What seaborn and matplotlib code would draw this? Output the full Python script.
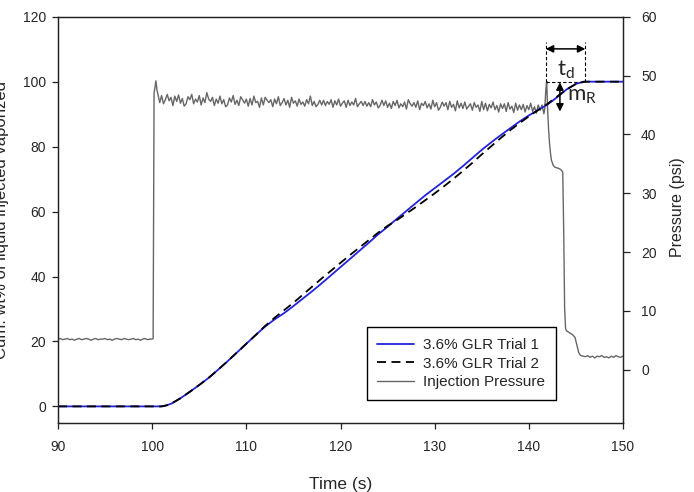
import numpy as np
import pandas as pd
import matplotlib
matplotlib.use("Agg")
import matplotlib.pyplot as plt
import seaborn as sns

sns.set_theme(style="ticks")
plt.rcParams['font.family'] = ['Liberation Sans', 'DejaVu Sans']

# cumulative wt% vaporized, trial 1 and trial 2
trial1_t = [90, 100, 101, 101.5, 102, 103, 104, 105, 106, 107, 108, 109, 110, 111, 112,
            113, 114, 115, 116, 117, 118, 119, 120, 121, 122, 123, 124, 125, 126, 127,
            128, 129, 130, 131, 132, 133, 134, 135, 136, 137, 138, 139, 140, 141, 142,
            143, 144, 145, 145.8, 150]
trial1_v = [0, 0, 0, 0.3, 0.8, 2.5, 4.5, 6.6, 8.8, 11.3, 13.9, 16.6, 19.3, 22.0, 24.6,
            26.8, 28.7, 30.9, 33.2, 35.5, 37.9, 40.4, 42.9, 45.4, 47.9, 50.4, 53.0, 55.3, 57.8, 60.2,
            62.6, 65.0, 67.2, 69.4, 71.6, 74.0, 76.5, 79.0, 81.3, 83.5, 85.6, 87.7, 89.6, 91.3, 93.0,
            95.2, 97.6, 99.3, 100, 100]
trial2_t = [90, 100, 101, 101.5, 102, 103, 104, 105, 106, 107, 108, 109, 110, 111, 112,
            113, 114, 115, 116, 117, 118, 119, 120, 121, 122, 123, 124, 125, 126, 127,
            128, 129, 130, 131, 132, 133, 134, 135, 136, 137, 138, 139, 140, 141, 142,
            143, 144, 145, 145.9, 150]
trial2_v = [0, 0, 0, 0.3, 0.8, 2.5, 4.5, 6.6, 8.8, 11.3, 13.9, 16.6, 19.3, 22.0, 24.8,
            27.3, 29.6, 31.9, 34.4, 36.9, 39.4, 41.8, 44.2, 46.6, 48.9, 51.2, 53.5, 55.6, 57.4, 59.4,
            61.4, 63.5, 65.6, 67.8, 70.1, 72.5, 75.0, 77.6, 80.1, 82.6, 85.0, 87.2, 89.3, 91.3, 93.2,
            95.4, 97.6, 99.3, 100, 100]

# injection pressure (psi)
press_pre = [5.2, 5.3, 5.1, 5.2, 5.3, 5.1, 5.2, 5.0, 5.2, 5.3, 5.1, 5.2, 5.3, 5.2, 5.0,
             5.2, 5.3, 5.1, 5.2, 5.2, 5.3, 5.1, 5.2, 5.0, 5.2, 5.3, 5.2, 5.1, 5.3, 5.2,
             5.1, 5.2, 5.3, 5.1, 5.2, 5.0, 5.2, 5.3, 5.1, 5.2, 5.2]          # 90 .. 100 s
press_step_t = [100.1, 100.2, 100.3, 100.4, 100.5]
press_step = [5.3, 47.0, 48.0, 49.1, 47.6]
press_plateau = [
    46.9, 45.4, 46.6, 45.2, 45.9, 46.8, 45.7, 46.3, 44.9, 46.5,
    45.6, 46.7, 45.3, 46.1, 44.8, 45.2, 46.4, 45.9, 46.8, 45.2,
    46.0, 45.5, 46.6, 45.0, 46.2, 45.4, 47.1, 46.0, 45.6, 46.3,
    44.9, 46.0, 45.3, 46.5, 45.2, 45.9, 44.7, 45.0, 46.2, 45.5,
    46.6, 45.1, 45.8, 44.9, 46.4, 45.9, 45.3, 46.0, 44.8, 46.1,
    45.0, 46.5, 45.4, 45.6, 44.6, 46.2, 45.0, 46.3, 45.8, 45.4,
    45.9, 44.7, 46.0, 45.2, 46.4, 44.9, 45.4, 46.1, 45.0, 45.8,
    44.6, 46.3, 45.3, 45.7, 44.8, 46.0, 45.1, 45.5, 44.8, 45.9,
    45.2, 46.5, 44.9, 45.6, 44.7, 45.1, 45.8, 45.0, 45.8, 44.9,
    45.6, 45.1, 45.9, 44.6, 45.7, 45.0, 46.0, 44.8, 45.3, 45.7,
    44.6, 45.8, 44.9, 45.5, 45.0, 46.1, 44.7, 45.2, 45.6, 44.9,
    45.6, 44.8, 45.4, 44.7, 45.9, 45.0, 45.5, 44.5, 44.9, 45.8,
    44.9, 45.7, 44.6, 45.3, 44.4, 45.6, 44.9, 45.8, 44.5, 45.2,
    44.7, 45.5, 44.3, 45.9, 45.2, 44.8, 45.4, 44.6, 45.7, 44.2,
    45.3, 44.9, 45.6, 44.5, 45.2, 44.3, 45.8, 44.7, 45.4, 44.1,
    44.6, 45.5, 44.8, 45.4, 44.2, 45.6, 44.6, 45.1, 44.0, 45.7,
    44.5, 45.3, 44.4, 45.5, 44.3, 44.8, 45.2, 44.1, 45.4, 44.6,
    45.0, 43.9, 45.6, 44.2, 45.3, 44.0, 45.1, 44.5, 45.5, 44.2,
    44.9, 43.8, 45.2, 44.4, 45.2, 43.9, 45.4, 44.3, 44.8, 43.7,
    45.3, 44.1, 45.0, 44.2, 45.1, 43.8, 44.9, 44.2, 45.3, 43.9,
    44.7, 43.6, 45.0, 44.1, 45.0, 43.5]                              # 100.6 .. 141.6 s
press_drop_t = [141.7, 141.8, 141.9, 142.0, 142.1, 142.2, 142.3, 142.4, 142.6, 142.8,
                143.0, 143.2, 143.4, 143.6, 143.7, 143.8, 143.9, 144.0, 144.3, 144.6,
                144.9, 145.1, 145.3, 145.5, 145.8]
press_drop = [44.5, 47.5, 49.0, 44.0, 40.8, 38.4, 36.8, 35.6, 34.7, 34.4,
              34.3, 34.2, 34.0, 33.6, 24.0, 10.5, 7.0, 6.6, 6.3, 6.0,
              5.5, 4.2, 2.9, 2.4, 2.3]
press_tail = [2.2, 2.4, 2.1, 2.3, 2.0, 2.3, 2.2, 2.4, 2.1, 2.2, 2.0, 2.3, 2.1, 2.4,
              2.2, 2.1, 2.3]                                                # 146 .. 150 s

press_t = np.concatenate([np.linspace(90, 100, len(press_pre)), press_step_t,
                          np.linspace(100.6, 141.6, len(press_plateau)), press_drop_t,
                          np.linspace(146, 150, len(press_tail))])
press_v = np.concatenate([press_pre, press_step, press_plateau, press_drop, press_tail])
df_press = pd.DataFrame({'time': press_t, 'psi': press_v})

fig = plt.figure(figsize=(6.94, 4.92), dpi=100)
ax = fig.add_axes([0.0836, 0.141, 0.8141, 0.825])
ax2 = ax.twinx()

sns.lineplot(data=df_press, x='time', y='psi', ax=ax2, color='#666666', lw=1.0,
             estimator=None, sort=False, legend=False, label='Injection Pressure')
sns.lineplot(x=trial1_t, y=trial1_v, ax=ax, color='#2222dd', lw=1.3,
             estimator=None, legend=False, label='3.6% GLR Trial 1')
sns.lineplot(x=trial2_t, y=trial2_v, ax=ax, color='black', lw=1.3, dashes=False,
             estimator=None, legend=False, label='3.6% GLR Trial 2')
ax.get_lines()[-1].set_dashes((5, 3))

ax.set_zorder(ax2.get_zorder() + 1)
ax.patch.set_visible(False)

ax.set_xlim(90, 150)
ax.set_ylim(-5, 120)
ax2.set_ylim(-9, 60)
ax.set_xticks(range(90, 151, 10))
ax.set_yticks(range(0, 121, 20))
ax2.set_yticks(range(0, 61, 10))

for a in (ax, ax2):
    for s in a.spines.values():
        s.set_color('#222222')
        s.set_linewidth(0.9)
ax.tick_params(axis='both', direction='out', length=4.5, width=0.9, color='#222222',
               labelsize=10, pad=4)
ax.tick_params(axis='x', pad=8)
ax2.tick_params(axis='y', direction='out', length=5, width=0.9, color='#222222',
                labelsize=10, pad=8)

ax.set_xlabel('Time (s)', fontsize=12.5)
ax.xaxis.set_label_coords(0.5, -0.135)
ax.set_ylabel('Cum. wt% of liquid injected vaporized', fontsize=12)
ax.yaxis.set_label_coords(-0.087, 0.5)
ax2.set_ylabel('Pressure (psi)', fontsize=11.5)
ax2.yaxis.set_label_coords(1.083, 0.53)

# t_d / m_R annotation
dash_kw = dict(color='black', lw=0.8, dashes=(3, 2))
ax.plot([141.8, 141.8], [100, 112.3], **dash_kw)
ax.plot([146.0, 146.0], [100, 112.3], **dash_kw)
ax.plot([141.8, 146.0], [100, 100], **dash_kw)
arrow_kw = dict(arrowstyle='<|-|>', color='black', lw=1.1, mutation_scale=11,
                shrinkA=0, shrinkB=0)
ax.annotate('', xy=(141.8, 110.1), xytext=(146.0, 110.1), arrowprops=arrow_kw)
ax.annotate('', xy=(143.3, 99.8), xytext=(143.3, 90.8), arrowprops=arrow_kw)
ax.text(143.9, 101.8, r'$\mathregular{t_d}$', ha='center', va='baseline',
        fontsize=16, family='Lato')
ax.text(144.0, 94.0, r'$\mathregular{m_R}$', ha='left', va='baseline',
        fontsize=16, family='Lato')

handles = ax.get_lines()[:2] + ax2.get_lines()[:1]
leg = ax.legend(handles=handles, labels=[h.get_label() for h in handles],
                loc='lower left', bbox_to_anchor=(0.546, 0.056), borderaxespad=0,
                fontsize=11, handlelength=2.4, handletextpad=0.6, labelspacing=0.3,
                borderpad=0.7, fancybox=False, framealpha=1, edgecolor='black')
leg.get_frame().set_linewidth(1.0)

fig.savefig('out.png', dpi=100)
